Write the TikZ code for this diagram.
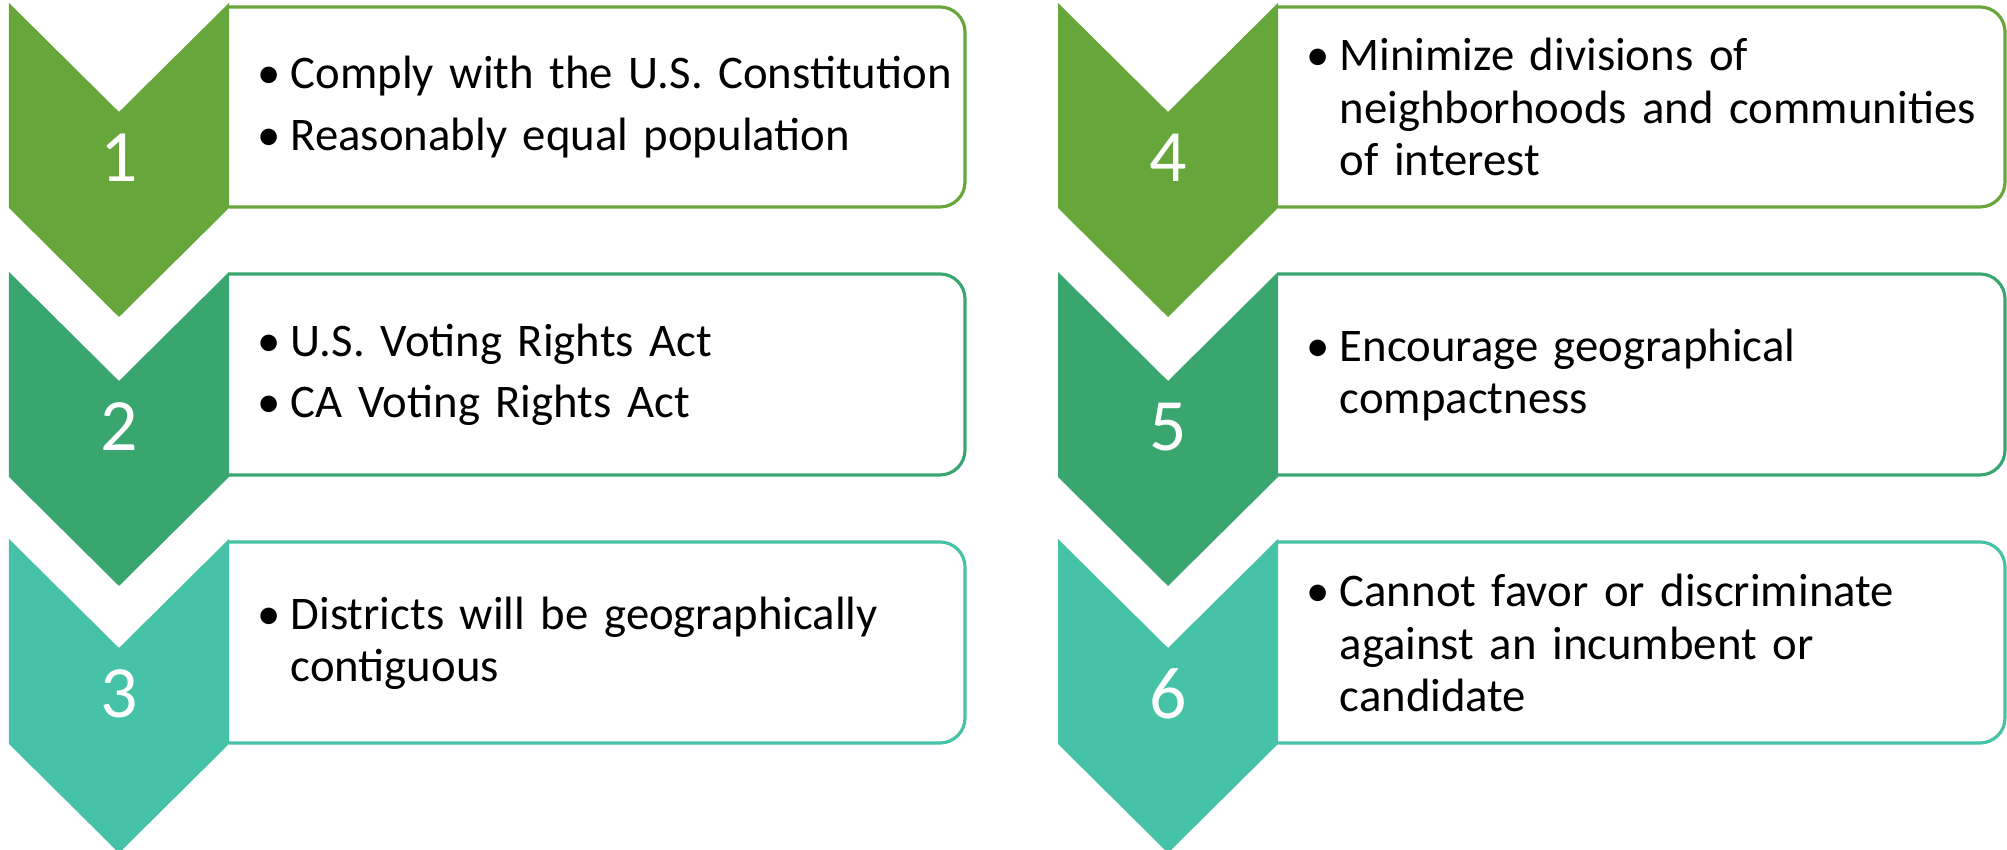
\documentclass[tikz,border=0pt]{standalone}
\usepackage{fontspec}
\setmainfont{Carlito}
\definecolor{stepA}{RGB}{103,166,58}
\definecolor{stepB}{RGB}{58,166,111}
\definecolor{stepC}{RGB}{70,194,166}
\newcommand{\critem}[1]{\hangindent=0.33cm\hangafter=1\noindent\makebox[0.33cm][l]{\textbullet}#1\par}
\begin{document}
\begin{tikzpicture}[
    rulebox/.style = {draw=#1, line width=0.9pt, rounded corners=0.25cm},
    num/.style = {text=white, inner sep=0pt, font=\fontsize{21}{21}\selectfont},
    rules/.style = {anchor=west, inner sep=0pt, text width=7.2cm, font=\fontsize{13.3}{14.9}\selectfont}]
        \clip (0,0) rectangle (20.07,8.50);

        % left column boxes
        \draw[rulebox=stepA] (2.29,8.43) -- (9.65,8.43) -- (9.65,6.43) -- (2.29,6.43);
        \draw[rulebox=stepB] (2.29,5.76) -- (9.65,5.76) -- (9.65,3.75) -- (2.29,3.75);
        \draw[rulebox=stepC] (2.29,3.08) -- (9.65,3.08) -- (9.65,1.07) -- (2.29,1.07);
        % right column boxes
        \draw[rulebox=stepA] (12.78,8.43) -- (20.05,8.43) -- (20.05,6.43) -- (12.78,6.43);
        \draw[rulebox=stepB] (12.78,5.76) -- (20.05,5.76) -- (20.05,3.75) -- (12.78,3.75);
        \draw[rulebox=stepC] (12.78,3.08) -- (20.05,3.08) -- (20.05,1.07) -- (12.78,1.07);

        % chevrons
        \fill[stepA] (0.09,8.47) -- (1.19,7.38) -- (2.29,8.47) -- (2.29,6.42) -- (1.19,5.33) -- (0.09,6.42) -- cycle;
        \fill[stepB] (0.09,5.78) -- (1.19,4.69) -- (2.29,5.78) -- (2.29,3.73) -- (1.19,2.64) -- (0.09,3.73) -- cycle;
        \fill[stepC] (0.09,3.11) -- (1.19,2.02) -- (2.29,3.11) -- (2.29,1.06) -- (1.19,-0.03) -- (0.09,1.06) -- cycle;
        \fill[stepA] (10.58,8.47) -- (11.68,7.38) -- (12.78,8.47) -- (12.78,6.42) -- (11.68,5.33) -- (10.58,6.42) -- cycle;
        \fill[stepB] (10.58,5.78) -- (11.68,4.69) -- (12.78,5.78) -- (12.78,3.73) -- (11.68,2.64) -- (10.58,3.73) -- cycle;
        \fill[stepC] (10.58,3.11) -- (11.68,2.02) -- (12.78,3.11) -- (12.78,1.06) -- (11.68,-0.03) -- (10.58,1.06) -- cycle;

        \node[num] (n1) at (1.19,6.92) {1};
        \node[num] (n2) at (1.19,4.23) {2};
        \node[num] (n3) at (1.19,1.56) {3};
        \node[num] (n4) at (11.68,6.92) {4};
        \node[num] (n5) at (11.68,4.23) {5};
        \node[num] (n6) at (11.68,1.56) {6};

        \node[rules] (t1) at (2.57,7.43) {\critem{Comply with the U.S. Constitution}\vspace{0.09cm}\critem{Reasonably equal population}};
        \node[rules] (t2) at (2.57,4.75) {\critem{U.S. Voting Rights Act}\vspace{0.09cm}\critem{CA Voting Rights Act}};
        \node[rules] (t3) at (2.57,2.07) {\critem{Districts will be geographically\newline contiguous}};
        \node[rules] (t4) at (13.06,7.43) {\critem{Minimize divisions of\newline neighborhoods and communities\newline of interest}};
        \node[rules] (t5) at (13.06,4.75) {\critem{Encourage geographical\newline compactness}};
        \node[rules] (t6) at (13.06,2.07) {\critem{Cannot favor or discriminate\newline against an incumbent or\newline candidate}};
\end{tikzpicture}
\end{document}
